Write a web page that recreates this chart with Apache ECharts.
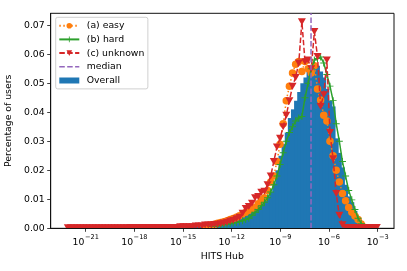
<!DOCTYPE html>
<html><head><meta charset="utf-8">
<script src="https://cdn.jsdelivr.net/npm/echarts@6/dist/echarts.min.js"></script>
<style>html,body{margin:0;padding:0;background:#fff}#c{width:407px;height:271px}</style>
</head><body><div id="c"></div>
<script>
// log10(HITS hub) histogram bins
const binStartLog = -22.2;
const binWidthLog = 0.1924;
const overall = [
0.0001,0.0001,0.0001,0.0001,0.0001,0.0001,0.0001,0.0001,0.0001,0.0001,
0.0001,0.0001,0.0001,0.0001,0.0001,0.0001,0.0001,0.0001,0.0001,0.0001,
0.0001,0.0001,0.0001,0.0001,0.0001,0.0001,0.0001,0.0001,0.0001,0.0001,
0.0002,0.0002,0.0002,0.0002,0.0002,0.0002,0.0003,0.0003,0.0003,0.0003,
0.0005,0.0005,0.0005,0.0005,0.0007,0.0009,0.0011,0.0013,0.0015,0.0017,
0.0019,0.0022,0.0025,0.0029,0.0033,0.0037,0.0042,0.0047,0.0052,0.0057,
0.0064,0.0073,0.0085,0.0096,0.0108,0.0125,0.0155,0.020,0.025,0.029,
0.033,0.038,0.041,0.044,0.047,0.050,0.052,0.054,0.055,0.057,
0.056,0.054,0.052,0.048,0.044,0.042,0.031,0.026,0.021,0.015,
0.011,0.009,0.006,0.0035,0.0015,0.0005,0.0002,0.0001,0,0];
const easy = [
null,null,null,null,null,null,null,null,null,null,
null,null,null,null,null,null,null,null,null,null,
null,null,null,null,null,null,null,null,null,null,
null,null,null,null,null,null,null,null,null,null,
null,null,null,null,0.0008,0.001,0.0012,0.0014,0.0017,0.002,
0.0023,0.0026,0.003,0.0034,0.0038,0.0043,0.0049,0.0055,0.0062,0.0068,
0.0072,0.0085,0.0098,0.0105,0.013,0.016,0.018,0.023,0.029,0.036,
0.044,0.049,0.0535,0.0565,0.0575,0.054,0.0575,0.055,0.0535,0.056,
0.048,0.0442,0.039,0.037,0.030,0.025,0.020,0.016,0.012,0.0095,
0.0072,0.0055,0.0042,0.003,0.0015,0.0004,0.0001,null,null,null];
const hard = [
null,null,null,null,null,null,null,null,null,null,
null,null,null,null,null,null,null,null,null,null,
null,null,null,null,null,null,null,null,null,null,
null,null,null,null,null,null,null,null,null,null,
null,null,null,null,null,null,0.0006,0.0007,0.0008,0.001,
0.0012,0.0014,0.0016,0.0018,0.002,0.0023,0.0026,0.003,0.0035,0.0045,
0.0055,0.0065,0.0078,0.009,0.0105,0.0125,0.015,0.018,0.022,0.026,
0.030,0.033,0.035,0.037,0.038,0.0385,0.045,0.050,0.055,0.058,
0.0585,0.059,0.057,0.053,0.049,0.044,0.036,0.030,0.023,0.018,
0.013,0.0098,0.0065,0.0035,0.0017,0.0005,0.0002,0.0001,null,null];
const unknown = [
0.0002,0.0002,0.0002,0.0002,0.0002,0.0002,0.0002,0.0002,0.0002,0.0002,
0.0002,0.0002,0.0002,0.0002,0.0002,0.0002,0.0002,0.0002,0.0002,0.0002,
0.0003,0.0003,0.0003,0.0003,0.0003,0.0003,0.0003,0.0003,0.0003,0.0003,
0.0003,0.0003,0.0003,0.0003,0.0003,0.0003,0.0005,0.0005,0.0005,0.0005,
0.0005,0.0008,0.0008,0.0008,0.0011,0.0011,0.0011,0.0013,0.0014,0.0016,
0.0018,0.0021,0.0025,0.0028,0.0033,0.0038,0.0052,0.0068,0.0075,0.0086,
0.0105,0.011,0.0124,0.0128,0.015,0.018,0.023,0.028,0.031,0.035,
0.039,0.044,0.049,0.052,0.057,0.0712,0.0574,0.058,0.055,0.0678,
0.0592,0.042,0.046,0.058,0.033,0.024,0.012,0.0045,0.0012,0.0003,
0.0003,0.0003,0.0003,0.0003,0.0003,0.0003,0.0003,0.0003,0.0003,0.0003];
const medianLog = -7.11;
const xTickExps = [-21, -18, -15, -12, -9, -6, -3];
const yTicks = [0, 0.01, 0.02, 0.03, 0.04, 0.05, 0.06, 0.07];
const names = ['(a) easy', '(b) hard', '(c) unknown', 'median', 'Overall'];
const xLabel = 'HITS Hub';
const yLabel = 'Percentage of users';

const FONT = 'DejaVu Sans';
const FS = 9.3;
const xMin = -23.16, xMax = -1.995, yMin = 0, yMax = 0.0741;
const G = {left: 50.7, right: 13, top: 13.3, bottom: 42.7};

const centers = overall.map((_, i) => binStartLog + (i + 0.5) * binWidthLog);
const pairs = arr => arr.map((v, i) => [centers[i], v]);

const chart = echarts.init(document.getElementById('c'), null, {renderer: 'canvas'});
chart.setOption({
  animation: false,
  backgroundColor: '#fff',
  grid: {left: G.left, right: G.right, top: G.top, bottom: G.bottom, containLabel: false, outerBoundsMode: 'none',
         show: true, borderColor: '#111', borderWidth: 1, backgroundColor: 'transparent'},
  graphic: [{
    type: 'rect', z: 10, silent: true,
    shape: {x: G.left - 1, y: 271 - G.bottom + 0.6, width: 407 - G.left - G.right + 2, height: 9},
    style: {fill: '#fff'}
  }],
  xAxis: {
    type: 'value', min: xMin, max: xMax, z: 20,
    name: xLabel, nameLocation: 'middle', nameGap: 18,
    nameTextStyle: {fontFamily: FONT, fontSize: FS, color: '#000'},
    axisLine: {show: true, onZero: false, lineStyle: {color: '#111', width: 1}},
    axisTick: {show: true, length: 3.5, inside: false, customValues: xTickExps, lineStyle: {color: '#111', width: 0.8}},
    splitLine: {show: false},
    axisLabel: {
      customValues: xTickExps, margin: 5,
      formatter: v => '{b|10}{s|\u2212' + Math.abs(Math.round(v)) + '}',
      rich: {
        b: {fontFamily: FONT, fontSize: FS, color: '#000', lineHeight: 14, verticalAlign: 'bottom'},
        s: {fontFamily: FONT, fontSize: 6.6, color: '#000', lineHeight: 14, verticalAlign: 'top', padding: [0, 0, 0, 0.5]}
      }
    }
  },
  yAxis: {
    type: 'value', min: yMin, max: yMax, z: 20,
    name: yLabel, nameLocation: 'middle', nameGap: 28, nameRotate: 90,
    nameTextStyle: {fontFamily: FONT, fontSize: FS, color: '#000'},
    axisLine: {show: true, lineStyle: {color: '#111', width: 1}},
    axisTick: {show: true, length: 3.5, inside: false, customValues: yTicks, lineStyle: {color: '#111', width: 0.8}},
    splitLine: {show: false},
    axisLabel: {customValues: yTicks, margin: 6, fontFamily: FONT, fontSize: FS, color: '#000',
                formatter: v => v.toFixed(2)}
  },
  legend: {
    orient: 'vertical', left: 55.7, top: 17.3, z: 30,
    data: [
      {name: names[0]}, {name: names[1]}, {name: names[2]},
      {name: names[3], icon: 'path://M0,2.6H5.5V4.2H0Z M7.9,2.6H13.4V4.2H7.9Z M15.8,2.6H20V4.2H15.8Z'},
      {name: names[4], icon: 'path://M0,0H20V6H0Z'}
    ],
    itemWidth: 20, itemHeight: 7, itemGap: 3.7,
    padding: [3.4, 3.5, 3.4, 2.6],
    borderColor: '#d0d0d0', borderWidth: 1, borderRadius: 2,
    backgroundColor: 'rgba(255,255,255,0.85)',
    textStyle: {fontFamily: FONT, fontSize: FS, color: '#000', lineHeight: 10, padding: [0, 0, 0, 2.5]}
  },
  series: [
    {
      name: names[4], type: 'custom', z: 1,
      itemStyle: {color: '#1f77b4'},
      encode: {x: [0, 1], y: 2},
      data: overall.map((v, i) => [binStartLog + i * binWidthLog, binStartLog + (i + 1) * binWidthLog, v]),
      renderItem: (params, api) => {
        const p0 = api.coord([api.value(0), api.value(2)]);
        const p1 = api.coord([api.value(1), 0]);
        return {type: 'rect', shape: {x: p0[0], y: p0[1], width: p1[0] - p0[0] + 0.9, height: p1[1] - p0[1]},
                style: {fill: '#1f77b4'}};
      }
    },
    {
      name: names[0], type: 'line', z: 2, data: pairs(easy),
      showSymbol: true, showAllSymbol: true, symbol: 'circle', symbolSize: 7.5,
      itemStyle: {color: '#ff7f0e'},
      lineStyle: {color: '#ff7f0e', width: 1.5, type: [1.5, 2.5]}
    },
    {
      name: names[1], type: 'line', z: 3, data: pairs(hard),
      showSymbol: true, showAllSymbol: true,
      symbol: 'path://M0,4.3H10V5.7H0Z M4.3,0H5.7V10H4.3Z', symbolSize: 7,
      itemStyle: {color: '#2ca02c'},
      lineStyle: {color: '#2ca02c', width: 1.5, type: 'solid'}
    },
    {
      name: names[2], type: 'line', z: 4, data: pairs(unknown),
      showSymbol: true, showAllSymbol: true,
      symbol: 'path://M0,0H10L5,9Z', symbolSize: [8, 7],
      itemStyle: {color: '#d62728'},
      lineStyle: {color: '#d62728', width: 1.5, type: [5.5, 2.4]}
    },
    {
      name: names[3], type: 'line', z: 5, data: [[medianLog, yMin], [medianLog, yMax]],
      showSymbol: false, symbol: 'none',
      itemStyle: {color: '#9467bd'},
      lineStyle: {color: '#9467bd', width: 1.5, type: [5.5, 2.4]}
    }
  ]
});
</script></body></html>
